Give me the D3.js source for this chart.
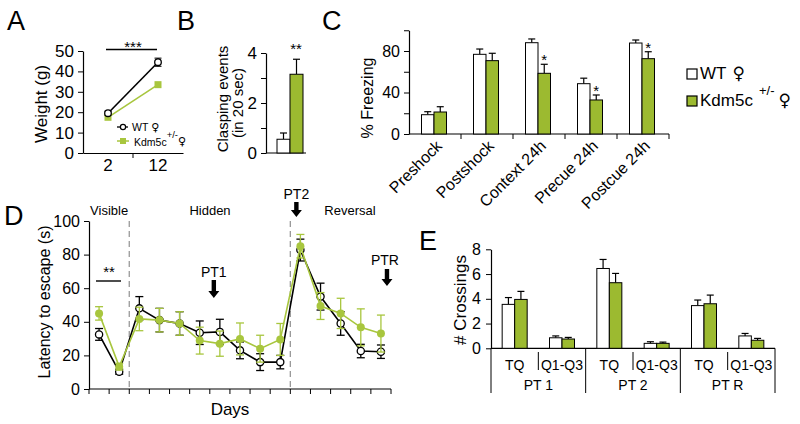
<!DOCTYPE html>
<html><head><meta charset="utf-8">
<script src="https://cdn.jsdelivr.net/npm/d3@7"></script>
<style>
body{margin:0;background:#fff}
svg{display:block}
text{font-family:"Liberation Sans",Arial,sans-serif;fill:#000}
.sym{font-family:"DejaVu Sans",sans-serif}
</style></head><body>
<svg id="c" width="800" height="424"></svg>
<script>
// ---------------- data ----------------
const aAges = ["2", "12"];
const aWT = [19.5, 44.5];
const aWTerr = [1, 2];
const aKO = [17.5, 33.5];
const aKOerr = [0.5, 0.8];

const bGroups = ["WT", "KO"];
const bValues = [0.55, 3.15];
const bErr = [0.25, 0.6];

const cCategories = ["Preshock", "Postshock", "Context 24h", "Precue 24h", "Postcue 24h"];
const cWT = [18.6, 76.8, 88, 48.5, 87.7];
const cWTerr = [2.9, 5.1, 3.6, 5.3, 2.9];
const cKO = [21.2, 70.7, 58.5, 32.8, 72.6];
const cKOerr = [5.1, 7.1, 8.7, 4.8, 6.7];
const cSig = [false, false, true, true, true];

const dDays = d3.range(15);
const dWT = [32.5, 10.3, 48, 41, 39, 33.5, 34, 23, 16, 16, 82.7, 55, 39, 22.6, 22.2];
const dWTerr = [3.5, 1.5, 7, 7, 7, 7, 7.5, 5, 5, 4, 6.5, 8, 7, 4, 4];
const dKO = [45, 13.3, 41.7, 41, 39, 28.8, 27, 29.8, 24, 29.5, 85, 49.4, 45, 36.7, 33];
const dKOerr = [4, 2, 7, 7, 7, 8, 7.5, 9.5, 8, 9.5, 7, 8, 9, 11, 11];
const dPhases = ["Visible", "Hidden", "Reversal"];

const eSub = ["TQ", "Q1-Q3", "TQ", "Q1-Q3", "TQ", "Q1-Q3"];
const eGroups = ["PT 1", "PT 2", "PT R"];
const eWT = [3.55, 0.85, 6.45, 0.4, 3.45, 1.0];
const eWTerr = [0.55, 0.15, 0.73, 0.13, 0.45, 0.2];
const eKO = [3.95, 0.75, 5.3, 0.4, 3.6, 0.65];
const eKOerr = [0.65, 0.13, 0.75, 0.1, 0.7, 0.15];

// ---------------- helpers ----------------
const GB = "#9cba30";
const GL = "#a8c63e";
const svg = d3.select("#c");

function text(x, y, s, size, anchor = "start") {
  return svg.append("text").attr("x", x).attr("y", y).attr("font-size", size)
    .attr("text-anchor", anchor).text(s);
}
function vtext(x, y, s, size) {
  return svg.append("text").attr("transform", `translate(${x},${y}) rotate(-90)`)
    .attr("font-size", size).attr("text-anchor", "middle").text(s);
}
function styleAxis(g, fs) {
  g.select(".domain").attr("stroke", "#000").attr("stroke-width", 1.2);
  g.selectAll(".tick line").attr("stroke", "#000").attr("stroke-width", 1);
  g.selectAll(".tick text").attr("font-size", fs).attr("font-family", '"Liberation Sans",Arial,sans-serif').attr("fill", "#000");
}
function upErr(x, yTop, yBar, color = "#000", cap = 7) {
  svg.append("line").attr("x1", x).attr("x2", x).attr("y1", yTop).attr("y2", yBar).attr("stroke", color).attr("stroke-width", 1.2);
  svg.append("line").attr("x1", x - cap / 2).attr("x2", x + cap / 2).attr("y1", yTop).attr("y2", yTop).attr("stroke", color).attr("stroke-width", 1.2);
}
function arrow(x, y0, y1) {
  const sw = 2.2, hw = 5.5, hl = 7;
  svg.append("path").attr("d",
    `M${x - sw},${y0} L${x + sw},${y0} L${x + sw},${y1 - hl} L${x + hw},${y1 - hl} L${x},${y1} L${x - hw},${y1 - hl} L${x - sw},${y1 - hl} Z`)
    .attr("fill", "#000");
}

// panel letters
text(7, 30, "A", 27);
text(177, 30, "B", 27);
text(322, 30, "C", 27);
text(4, 225, "D", 27);
text(419, 250, "E", 27);

// ---------------- Panel A ----------------
{
  const x = d3.scaleBand().domain(aAges).range([83, 183]);
  const y = d3.scaleLinear().domain([0, 50]).range([153, 51]);
  const ya = svg.append("g").attr("transform", "translate(83,0)")
    .call(d3.axisLeft(y).tickValues([0, 10, 20, 30, 40, 50]).tickSize(5).tickSizeOuter(0).tickPadding(4));
  styleAxis(ya, 17);
  const xa = svg.append("g").attr("transform", "translate(0,153)")
    .call(d3.axisBottom(x).tickSize(0).tickSizeOuter(0).tickPadding(6));
  styleAxis(xa, 17);
  svg.append("line").attr("x1", x("12")).attr("x2", x("12")).attr("y1", 153).attr("y2", 158).attr("stroke", "#000");
  const cx = d => x(d) + x.bandwidth() / 2;
  const line = d3.line().x((d, i) => cx(aAges[i])).y(d => y(d));
  svg.append("path").attr("d", line(aKO)).attr("fill", "none").attr("stroke", GL).attr("stroke-width", 1.6);
  svg.append("path").attr("d", line(aWT)).attr("fill", "none").attr("stroke", "#000").attr("stroke-width", 1.6);
  aWT.forEach((v, i) => {
    const X = cx(aAges[i]);
    svg.append("line").attr("x1", X).attr("x2", X).attr("y1", y(v - aWTerr[i])).attr("y2", y(v + aWTerr[i])).attr("stroke", "#000");
    [v - aWTerr[i], v + aWTerr[i]].forEach(e => svg.append("line").attr("x1", X - 3.5).attr("x2", X + 3.5).attr("y1", y(e)).attr("y2", y(e)).attr("stroke", "#000"));
  });
  aKO.forEach((v, i) => {
    const X = cx(aAges[i]);
    svg.append("rect").attr("x", X - 3.5).attr("y", y(v) - 3.5).attr("width", 7).attr("height", 7).attr("fill", GL);
  });
  aWT.forEach((v, i) => {
    svg.append("circle").attr("cx", cx(aAges[i])).attr("cy", y(v)).attr("r", 3.3).attr("fill", "#fff").attr("stroke", "#000").attr("stroke-width", 1.3);
  });
  // significance
  svg.append("line").attr("x1", 106).attr("x2", 157).attr("y1", 49.5).attr("y2", 49.5).attr("stroke", "#000").attr("stroke-width", 1.4);
  text(133, 52, "***", 15, "middle");
  vtext(47, 104, "Weight (g)", 17);
  // legend
  svg.append("line").attr("x1", 117).attr("x2", 128).attr("y1", 127).attr("y2", 127).attr("stroke", "#000").attr("stroke-width", 1.3);
  svg.append("circle").attr("cx", 123).attr("cy", 127).attr("r", 2.6).attr("fill", "#fff").attr("stroke", "#000").attr("stroke-width", 1.2);
  const w = text(132, 131, "WT", 10.5);
  w.append("tspan").attr("class", "sym").attr("dx", 3).attr("font-size", 11).text("♀");
  svg.append("line").attr("x1", 117).attr("x2", 129).attr("y1", 141).attr("y2", 141).attr("stroke", GL).attr("stroke-width", 1.5);
  svg.append("rect").attr("x", 120).attr("y", 138).attr("width", 6).attr("height", 6).attr("fill", GL);
  const t = text(134, 146, "Kdm5c", 10.5);
  t.append("tspan").attr("dy", -8).attr("font-size", 9.5).text("+/-");
  t.append("tspan").attr("class", "sym").attr("dy", 7).attr("font-size", 11).text("♀");
}

// ---------------- Panel B ----------------
{
  const y = d3.scaleLinear().domain([0, 4]).range([153, 53]);
  const x = d3.scaleBand().domain(bGroups).range([277, 303]);
  const ya = svg.append("g").attr("transform", "translate(266,0)")
    .call(d3.axisLeft(y).tickValues([0, 1, 2, 3, 4]).tickFormat(d => d % 2 === 0 ? d : "").tickSize(5).tickSizeOuter(0).tickPadding(4));
  styleAxis(ya, 17);
  svg.append("line").attr("x1", 266).attr("x2", 306).attr("y1", 153).attr("y2", 153).attr("stroke", "#000").attr("stroke-width", 1.2);
  bGroups.forEach((g, i) => {
    const v = bValues[i];
    upErr(x(g) + x.bandwidth() / 2, y(v + bErr[i]), y(v));
    svg.append("rect").attr("x", x(g)).attr("y", y(v)).attr("width", x.bandwidth()).attr("height", y(0) - y(v))
      .attr("fill", i === 0 ? "#fff" : GB).attr("stroke", "#000").attr("stroke-width", 1);
  });
  text(296, 54, "**", 15, "middle");
  vtext(228, 99, "Clasping events", 15);
  vtext(243, 103, "(in 20 sec)", 15);
}

// ---------------- Panel C ----------------
{
  const y = d3.scaleLinear().domain([0, 100]).range([134, 30.25]);
  const x = d3.scaleBand().domain(cCategories).range([409, 669]);
  const xs = d3.scaleBand().domain(["WT", "KO"]).range([0, 25]);
  const ya = svg.append("g").attr("transform", "translate(409,0)")
    .call(d3.axisLeft(y).tickValues([0, 20, 40, 60, 80, 100]).tickFormat(d => d % 40 === 0 && d < 100 ? d : "").tickSize(5).tickSizeOuter(0).tickPadding(4));
  styleAxis(ya, 16);
  svg.append("line").attr("x1", 409).attr("x2", 669).attr("y1", 134).attr("y2", 134).attr("stroke", "#000").attr("stroke-width", 1.2);
  cCategories.forEach((c, i) => {
    const x1 = x(c) + x.bandwidth();
    svg.append("line").attr("x1", x1).attr("x2", x1).attr("y1", 134).attr("y2", 139).attr("stroke", "#000");
    const off = x(c) + (x.bandwidth() - 25) / 2 - 1;
    [["WT", cWT[i], cWTerr[i], "#fff"], ["KO", cKO[i], cKOerr[i], GB]].forEach(([s, v, e, f]) => {
      const bx = off + xs(s);
      upErr(bx + xs.bandwidth() / 2, y(v + e), y(v));
      svg.append("rect").attr("x", bx).attr("y", y(v)).attr("width", xs.bandwidth()).attr("height", y(0) - y(v))
        .attr("fill", f).attr("stroke", "#000").attr("stroke-width", 1);
    });
    if (cSig[i]) text(off + xs("KO") + xs.bandwidth() / 2, y(cKO[i] + cKOerr[i]) + 1, "*", 15, "middle");
    const cx = x(c) + x.bandwidth() / 2;
    svg.append("text").attr("transform", `translate(${cx + 8},${147}) rotate(-45)`)
      .attr("font-size", 16).attr("text-anchor", "end").text(c);
  });
  vtext(373, 98, "% Freezing", 16);
  // legend
  svg.append("rect").attr("x", 687).attr("y", 69).attr("width", 10).attr("height", 10).attr("fill", "#fff").attr("stroke", "#000").attr("stroke-width", 1.2);
  const w = text(700, 79, "WT", 17);
  w.append("tspan").attr("class", "sym").attr("dx", 6).attr("font-size", 17).text("♀");
  svg.append("rect").attr("x", 687).attr("y", 96).attr("width", 10).attr("height", 10).attr("fill", GB).attr("stroke", "#000").attr("stroke-width", 1.2);
  const t = text(700, 106, "Kdm5c", 17);
  t.append("tspan").attr("dx", 6).attr("dy", -11).attr("font-size", 13).text("+/-");
  t.append("tspan").attr("class", "sym").attr("dx", 4).attr("dy", 11).attr("font-size", 17).text("♀");
}

// ---------------- Panel D ----------------
{
  const x = d3.scaleBand().domain(dDays).range([89, 391]);
  const y = d3.scaleLinear().domain([0, 100]).range([389, 221]);
  const ya = svg.append("g").attr("transform", "translate(89,0)")
    .call(d3.axisLeft(y).tickValues([0, 20, 40, 60, 80, 100]).tickSize(5).tickSizeOuter(0).tickPadding(4));
  styleAxis(ya, 16);
  svg.append("line").attr("x1", 89).attr("x2", 391).attr("y1", 389).attr("y2", 389).attr("stroke", "#000").attr("stroke-width", 1.2);
  d3.range(16).forEach(k => {
    const X = 89 + k * x.step();
    svg.append("line").attr("x1", X).attr("x2", X).attr("y1", 389).attr("y2", 394).attr("stroke", "#000");
  });
  [2, 10].forEach(k => {
    svg.append("line").attr("x1", x(k)).attr("x2", x(k)).attr("y1", y(100)).attr("y2", y(0))
      .attr("stroke", "#999").attr("stroke-width", 1.3).attr("stroke-dasharray", "6,4");
  });
  const cx = i => x(i) + x.bandwidth() / 2;
  const line = d3.line().x((d, i) => cx(i)).y(d => y(d));
  function series(vals, errs, color, open) {
    svg.append("path").attr("d", line(vals)).attr("fill", "none").attr("stroke", color).attr("stroke-width", 1.6);
    vals.forEach((v, i) => {
      const X = cx(i);
      svg.append("line").attr("x1", X).attr("x2", X).attr("y1", y(v - errs[i])).attr("y2", y(v + errs[i])).attr("stroke", color).attr("stroke-width", 1.3);
      [v - errs[i], v + errs[i]].forEach(e => svg.append("line").attr("x1", X - 4).attr("x2", X + 4).attr("y1", y(e)).attr("y2", y(e)).attr("stroke", color).attr("stroke-width", 1.3));
    });
    vals.forEach((v, i) => {
      svg.append("circle").attr("cx", cx(i)).attr("cy", y(v)).attr("r", open ? 3.6 : 4)
        .attr("fill", open ? "#fff" : color).attr("stroke", open ? "#000" : "none").attr("stroke-width", 1.3);
    });
  }
  series(dWT, dWTerr, "#000", true);
  series(dKO, dKOerr, GL, false);
  // phase labels
  text((x(0) + x(2)) / 2, 215, dPhases[0], 13, "middle");
  text(210, 215, dPhases[1], 13, "middle");
  text(350, 215, dPhases[2], 13, "middle");
  // significance
  svg.append("line").attr("x1", 96).attr("x2", 121).attr("y1", 281).attr("y2", 281).attr("stroke", "#000").attr("stroke-width", 1.4);
  text(109, 277, "**", 15, "middle");
  // probe trials
  const p1 = x(6) + 0.2 * x.step(), p2 = x(10) + 0.3 * x.step(), pr = x(14) + 0.8 * x.step();
  text(p1, 277, "PT1", 14, "middle"); arrow(p1, 280, 298);
  text(p2, 199, "PT2", 14, "middle"); arrow(p2, 202, 217);
  text(pr - 2, 265, "PTR", 14, "middle"); arrow(pr, 269, 286);
  vtext(50, 302, "Latency to escape (s)", 16);
  text(230, 415, "Days", 17, "middle");
}

// ---------------- Panel E ----------------
{
  const y = d3.scaleLinear().domain([0, 8]).range([348.3, 249.3]);
  const x = d3.scaleBand().domain(d3.range(6)).range([491, 775]);
  const xs = d3.scaleBand().domain(["WT", "KO"]).range([0, 25]);
  const ya = svg.append("g").attr("transform", "translate(491,0)")
    .call(d3.axisLeft(y).tickValues([0, 2, 4, 6, 8]).tickSize(5).tickSizeOuter(0).tickPadding(5));
  styleAxis(ya, 16);
  svg.append("line").attr("x1", 491).attr("x2", 775).attr("y1", 348.3).attr("y2", 348.3).attr("stroke", "#000").attr("stroke-width", 1.2);
  d3.range(6).forEach(i => {
    const off = x(i) + (x.bandwidth() - 25) / 2;
    [["WT", eWT[i], eWTerr[i], "#fff"], ["KO", eKO[i], eKOerr[i], GB]].forEach(([s, v, e, f]) => {
      const bx = off + xs(s);
      upErr(bx + xs.bandwidth() / 2, y(v + e), y(v));
      svg.append("rect").attr("x", bx).attr("y", y(v)).attr("width", xs.bandwidth()).attr("height", y(0) - y(v))
        .attr("fill", f).attr("stroke", "#000").attr("stroke-width", 1);
    });
    text(x(i) + x.bandwidth() / 2, 370, eSub[i], 14, "middle");
  });
  d3.range(7).forEach(k => {
    const X = 491 + k * x.step();
    if (k % 2 === 0) svg.append("line").attr("x1", X).attr("x2", X).attr("y1", 348.3).attr("y2", 393).attr("stroke", "#000");
    else svg.append("line").attr("x1", X).attr("x2", X).attr("y1", 352).attr("y2", 370).attr("stroke", "#000");
  });
  eGroups.forEach((g, j) => text(491 + (2 * j + 1) * x.step(), 390, g, 14, "middle"));
  vtext(466, 300, "# Crossings", 17);
}
</script>
</body></html>
